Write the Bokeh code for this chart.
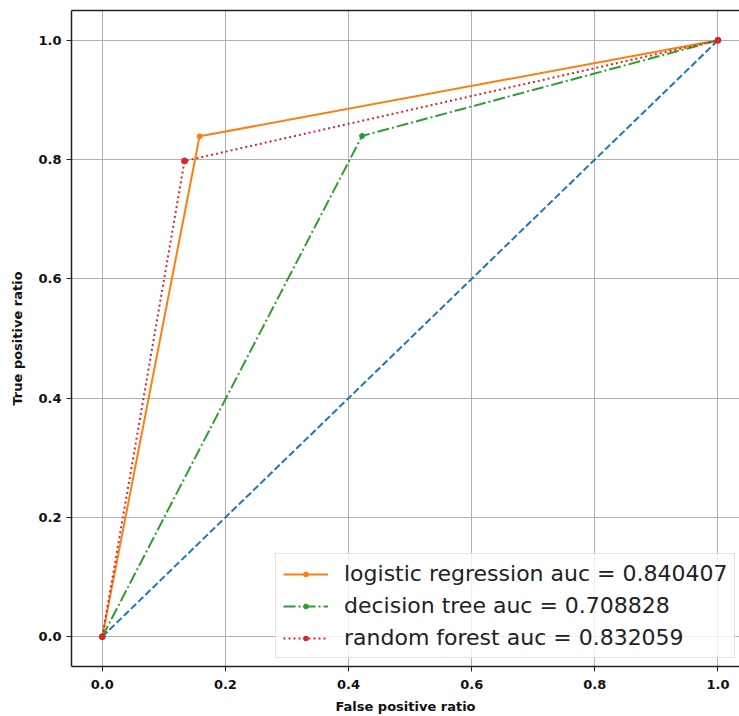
from bokeh.plotting import figure
from bokeh.models import LinearAxis, FixedTicker, Legend, LegendItem, Range1d
from bokeh.embed import file_html
from bokeh.resources import INLINE

# ---- data ----
diag_x = [0.0, 1.0]
diag_y = [0.0, 1.0]
lr_fpr = [0.0, 0.158, 1.0]
lr_tpr = [0.0, 0.839, 1.0]
dt_fpr = [0.0, 0.422, 1.0]
dt_tpr = [0.0, 0.8397, 1.0]
rf_fpr = [0.0, 0.1336, 1.0]
rf_tpr = [0.0, 0.7977, 1.0]
series_labels = ["logistic regression auc = 0.840407",
                 "decision tree auc = 0.708828",
                 "random forest auc = 0.832059"]
tick_vals = [0.0, 0.2, 0.4, 0.6, 0.8, 1.0]
tick_labels = ["0.0", "0.2", "0.4", "0.6", "0.8", "1.0"]

BLUE, ORANGE, GREEN, RED = "#1f77b4", "#ff7f0e", "#2ca02c", "#d62728"

p = figure(width=739, height=716,
           x_range=Range1d(-0.05, 1.035), y_range=Range1d(-0.05, 1.05),
           output_backend="svg", toolbar_location=None,
           min_border_left=71, min_border_right=0, min_border_top=10,
           min_border_bottom=48)
p.outline_line_color = None
p.background_fill_color = "white"

for ax in (p.xaxis[0], p.yaxis[0]):
    ax.ticker = FixedTicker(ticks=tick_vals)
    ax.major_label_overrides = {v: l for v, l in zip(tick_vals, tick_labels)}
    ax.minor_tick_line_color = None
    ax.major_tick_out = 5
    ax.major_tick_in = 0
    ax.axis_line_color = "#222222"
    ax.axis_line_width = 1.5
    ax.major_tick_line_color = "#222222"
    ax.major_label_text_font = "DejaVu Sans"
    ax.major_label_text_font_style = "bold"
    ax.major_label_text_font_size = "13px"
    ax.major_label_text_color = "#111111"
    ax.axis_label_text_font = "DejaVu Sans"
    ax.axis_label_text_font_style = "bold"
    ax.axis_label_text_font_size = "13px"
    ax.axis_label_text_color = "#111111"

p.xaxis.axis_label = "False positive ratio"
p.yaxis.axis_label = "True positive ratio"
p.xaxis.major_label_standoff = 8
p.yaxis.major_label_standoff = 5
p.xaxis.axis_label_standoff = 7
p.yaxis.axis_label_standoff = 10

top = LinearAxis(ticker=FixedTicker(ticks=[]), major_label_text_font_size="0px",
                 major_tick_out=0, major_tick_in=0, minor_tick_out=0, minor_tick_in=0,
                 axis_line_color="#222222", axis_line_width=1.5)
p.add_layout(top, "above")

p.xgrid.ticker = FixedTicker(ticks=tick_vals)
p.ygrid.ticker = FixedTicker(ticks=tick_vals)
p.grid.grid_line_color = "#b0b0b0"
p.grid.grid_line_width = 1

p.line(diag_x, diag_y, color=BLUE, line_width=2, line_dash="7 3")

lr_l = p.line(lr_fpr, lr_tpr, color=ORANGE, line_width=2)
lr_s = p.scatter(lr_fpr, lr_tpr, color=ORANGE, size=5)
dt_l = p.line(dt_fpr, dt_tpr, color=GREEN, line_width=2, line_dash="12 3 2 3")
dt_s = p.scatter(dt_fpr, dt_tpr, color=GREEN, size=5)
rf_l = p.line(rf_fpr, rf_tpr, color=RED, line_width=2, line_dash="2 3")
rf_s = p.scatter(rf_fpr, rf_tpr, color=RED, size=6)

legend = Legend(items=[LegendItem(label=series_labels[0], renderers=[lr_l, lr_s]),
                       LegendItem(label=series_labels[1], renderers=[dt_l, dt_s]),
                       LegendItem(label=series_labels[2], renderers=[rf_l, rf_s])],
                location=(204, 8), glyph_width=45, glyph_height=12,
                label_height=25, label_standoff=16, padding=7, spacing=7, margin=0,
                label_text_font="DejaVu Sans", label_text_font_size="22px",
                label_text_color="#222222",
                border_line_color="#cccccc", border_line_width=1,
                background_fill_color="white", background_fill_alpha=0.8)
p.add_layout(legend)

open("out.html", "w").write(file_html(p, INLINE))
